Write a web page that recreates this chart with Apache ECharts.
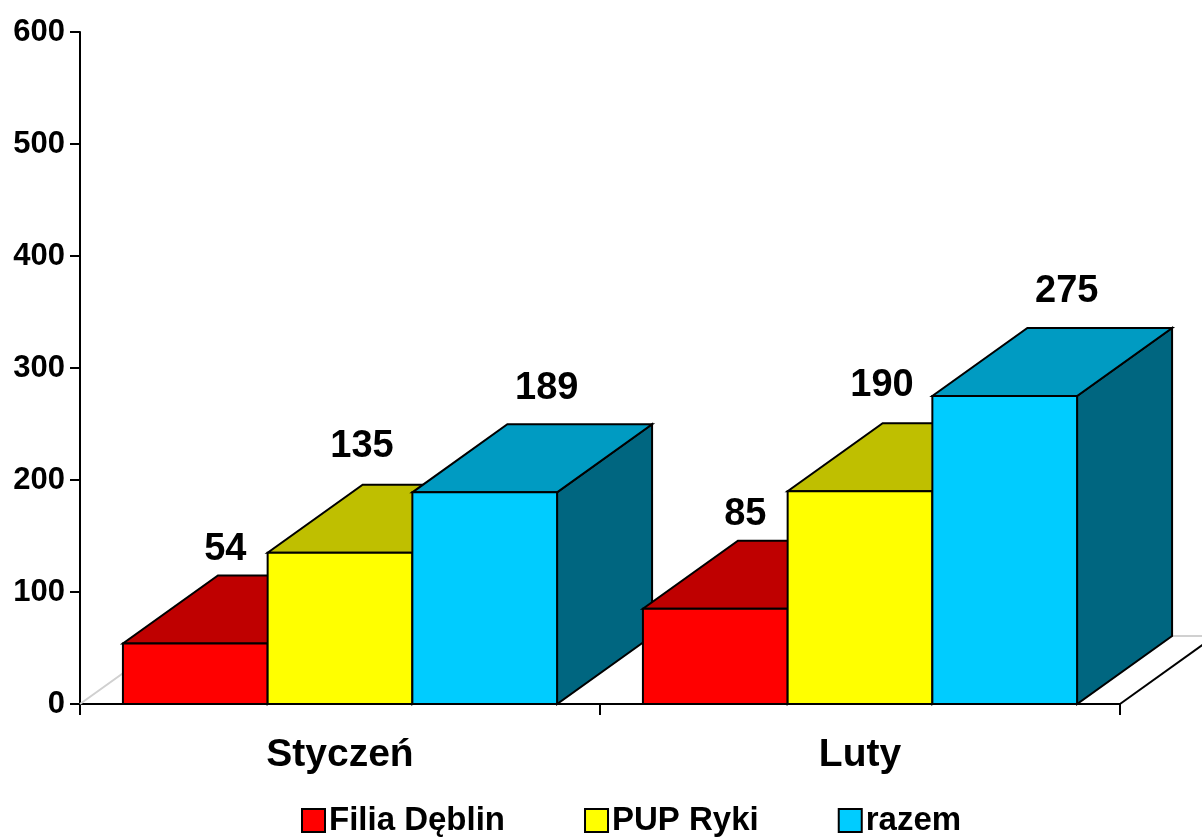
<!DOCTYPE html>
<html>
<head>
<meta charset="utf-8">
<script src="https://cdn.jsdelivr.net/npm/echarts@6/dist/echarts.min.js"></script>
<style>
  html, body { margin: 0; padding: 0; background: #fff; }
  #chart { width: 1202px; height: 837px; }
</style>
</head>
<body>
<div id="chart"></div>
<script>
// ---- data ----
const categories = ['Styczeń', 'Luty'];
const seriesNames = ['Filia Dęblin', 'PUP Ryki', 'razem'];
const filiaDeblin = [54, 85];
const pupRyki = [135, 190];
const razem = [189, 275];
const yMin = 0, yMax = 600, yStep = 100;

// ---- style ----
const FONT = '"Liberation Sans", Arial, sans-serif';
const palettes = [
  { front: '#FF0000', top: '#BF0000', side: '#800000' },
  { front: '#FFFF00', top: '#BFBF00', side: '#808000' },
  { front: '#00CCFF', top: '#009BC2', side: '#006680' }
];
const BAR_FRAC = 0.2783;   // bar width as fraction of category band
const DEPTH_X = 0.1827;    // depth offset (x) as fraction of band
const DEPTH_Y = 0.1308;    // depth offset (y) as fraction of band
const labelShift = [ { dx: 30, dy: -26 }, { dx: 22, dy: -38 }, { dx: 62, dy: -36 } ];

function makeRender(si) {
  const pal = palettes[si];
  return function (params, api) {
    const cat = api.value(0), val = api.value(1);
    const top = api.coord([cat, val]);
    const base = api.coord([cat, 0]);
    const band = api.size([1, 0])[0];
    const bw = band * BAR_FRAC;
    const x0 = top[0] - 1.5 * bw + si * bw, x1 = x0 + bw;
    const ty = top[1], by = base[1];
    const dx = band * DEPTH_X, dy = -band * DEPTH_Y;
    const z = params.dataIndex * 10 + si * 3;
    const stroke = { stroke: '#000', lineWidth: 2, lineJoin: 'miter' };
    return {
      type: 'group',
      children: [
        { type: 'polygon', z2: z,
          shape: { points: [[x1, ty], [x1, by], [x1 + dx, by + dy], [x1 + dx, ty + dy]] },
          style: Object.assign({ fill: pal.side }, stroke) },
        { type: 'polygon', z2: z + 1,
          shape: { points: [[x0, ty], [x1, ty], [x1 + dx, ty + dy], [x0 + dx, ty + dy]] },
          style: Object.assign({ fill: pal.top }, stroke) },
        { type: 'rect', z2: z + 2,
          shape: { x: x0, y: ty, width: bw, height: by - ty },
          style: Object.assign({ fill: pal.front }, stroke) },
        { type: 'text', z2: 200,
          style: {
            text: String(val),
            x: x0 + bw / 2 + labelShift[si].dx,
            y: ty + dy + labelShift[si].dy,
            align: 'center', verticalAlign: 'middle',
            fontSize: 38, fontWeight: 'bold', fontFamily: FONT, fill: '#000'
          } }
      ]
    };
  };
}

function floorRender(params, api) {
  const c = api.coord([0, 0]);
  const band = api.size([1, 0])[0];
  const xl = c[0] - band / 2, xr = xl + band * categories.length, y = c[1];
  const dx = band * DEPTH_X, dy = -band * DEPTH_Y;
  return {
    type: 'group',
    children: [
      { type: 'polyline', z2: 0, shape: { points: [[xl, y], [xl + dx, y + dy], [xr + dx, y + dy]] },
        style: { stroke: '#D0D0D0', lineWidth: 2, fill: null } },
      { type: 'line', z2: 1, shape: { x1: xr, y1: y, x2: xr + dx, y2: y + dy },
        style: { stroke: '#000', lineWidth: 2 } }
    ]
  };
}

const seriesData = [filiaDeblin, pupRyki, razem];
const series = [{
  type: 'custom', name: 'floor', z: 1, silent: true,
  data: [[0, 0]], encode: { x: 0, y: 1 }, renderItem: floorRender
}];
seriesNames.forEach((name, si) => {
  series.push({
    type: 'custom', name: name, z: 2,
    itemStyle: { color: palettes[si].front, borderColor: '#000', borderWidth: 1.5 },
    data: seriesData[si].map((v, i) => [i, v]),
    encode: { x: 0, y: 1 },
    renderItem: makeRender(si)
  });
});

const chart = echarts.init(document.getElementById('chart'), null, { renderer: 'canvas' });
chart.setOption({
  animation: false,
  backgroundColor: '#fff',
  grid: { left: 80, right: 82, top: 32, bottom: 133, containLabel: false },
  xAxis: {
    type: 'category', data: categories, boundaryGap: true,
    axisLine: { show: true, lineStyle: { color: '#000', width: 2 } },
    axisTick: { show: true, length: 11, lineStyle: { color: '#000', width: 2 } },
    axisLabel: { margin: 32, fontSize: 39, fontWeight: 'bold', fontFamily: FONT, color: '#000' },
    splitLine: { show: false }
  },
  yAxis: {
    type: 'value', min: yMin, max: yMax, interval: yStep,
    axisLine: { show: true, lineStyle: { color: '#000', width: 2 } },
    axisTick: { show: true, length: 10, lineStyle: { color: '#000', width: 2 } },
    axisLabel: { margin: 15, fontSize: 31, fontWeight: 'bold', fontFamily: FONT, color: '#000' },
    splitLine: { show: false }
  },
  legend: {
    data: seriesNames, left: 301, top: 804, padding: 0,
    icon: 'rect', itemWidth: 23, itemHeight: 23, itemGap: 79,
    textStyle: { fontSize: 33, fontWeight: 'bold', fontFamily: FONT, color: '#000', padding: [0, 0, 0, -1] },
    selectedMode: false
  },
  series: series
});
</script>
</body>
</html>
